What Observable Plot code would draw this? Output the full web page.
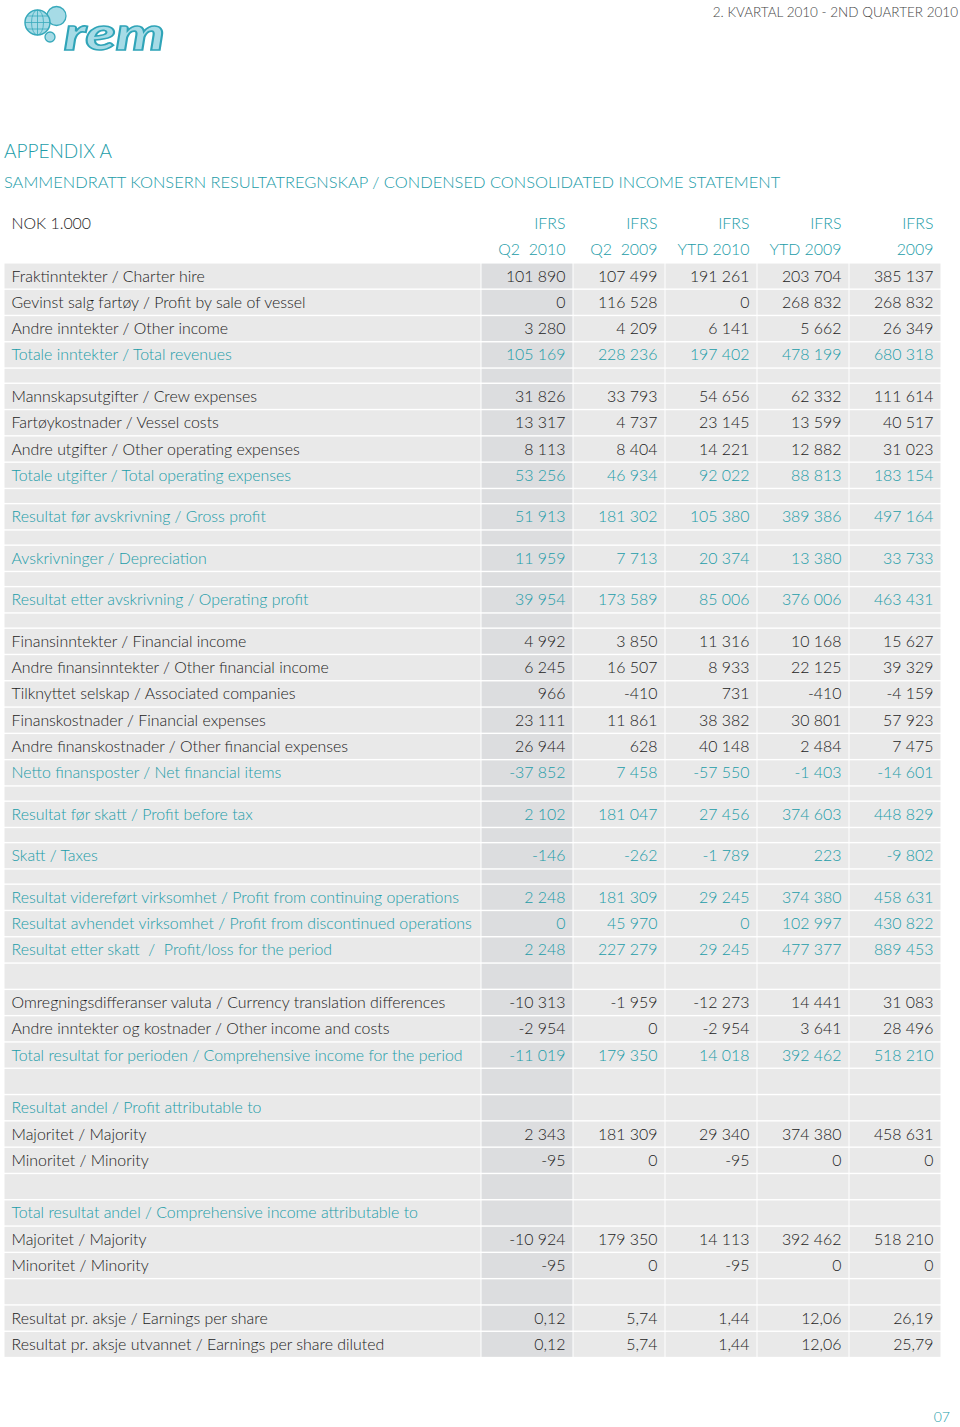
<!DOCTYPE html>
<html><head><meta charset="utf-8">
<script src="https://cdn.jsdelivr.net/npm/d3@7"></script>
<script src="https://cdn.jsdelivr.net/npm/@observablehq/plot@0.6"></script>
<style>
body{margin:0;background:#fff;font-family:Lato,"Open Sans",sans-serif;font-weight:300}
#page{position:relative;width:960px;height:1427px;overflow:hidden;background:#fff}
#logo{position:absolute;left:0;top:0}
#period{position:absolute;right:2px;top:4px;font-size:13.5px;color:#444;white-space:pre}
#title1{position:absolute;left:4px;top:139px;font-size:19px;color:#229ca8}
#title2{position:absolute;left:4px;top:172px;font-size:16.45px;color:#229ca8}
#chart{position:absolute;left:0;top:200px}
#pageno{position:absolute;right:10px;top:1408px;font-size:14px;color:#229ca8}
#chart svg text{white-space:pre;font-weight:300}
</style></head><body>
<div id="page">
<svg id="logo" width="180" height="60">
  <circle cx="56.5" cy="16" r="9.5" fill="#a6dbe6" stroke="#38a9bb" stroke-width="1.3"/>
  <circle cx="50" cy="37" r="5" fill="#a6dbe6" stroke="#38a9bb" stroke-width="1.3"/>
  <circle cx="37.5" cy="22.5" r="12.5" fill="#a6dbe6" stroke="#38a9bb" stroke-width="1.5"/>
  <g stroke="#38a9bb" stroke-width="0.8" fill="none">
    <ellipse cx="37.5" cy="22.5" rx="6" ry="12.5"/>
    <line x1="37.5" y1="10" x2="37.5" y2="35"/>
    <line x1="25" y1="22.5" x2="50" y2="22.5"/>
    <line x1="27" y1="16" x2="48" y2="16"/>
    <line x1="27" y1="29" x2="48" y2="29"/>
  </g>
  <text x="64" y="50" font-family="Lato" font-weight="900" font-style="italic" font-size="46" fill="#a6dbe6" stroke="#2fa4b8" stroke-width="1.6" textLength="101" lengthAdjust="spacingAndGlyphs">rem</text>
</svg>
<div id="period">2. KVARTAL 2010 - 2ND QUARTER 2010</div>
<div id="title1">APPENDIX A</div>
<div id="title2">SAMMENDRATT KONSERN RESULTATREGNSKAP / CONDENSED CONSOLIDATED INCOME STATEMENT</div>
<div id="chart"></div>
<div id="pageno">07</div>
</div>
<script>
// ---------- DATA ----------
const unitLabel = "NOK 1.000";
const columnStandards = ["IFRS", "IFRS", "IFRS", "IFRS", "IFRS"];
const columnPeriods = ["Q2  2010", "Q2  2009", "YTD 2010", "YTD 2009", "2009"];

// kinds: normal, total (teal), heading (teal label only), spacer (short blank), blank (full blank row), eps
const rowLabels = [
  "Fraktinntekter / Charter hire",
  "Gevinst salg fartøy / Profit by sale of vessel",
  "Andre inntekter / Other income",
  "Totale inntekter / Total revenues",
  "",
  "Mannskapsutgifter / Crew expenses",
  "Fartøykostnader / Vessel costs",
  "Andre utgifter / Other operating expenses",
  "Totale utgifter / Total operating expenses",
  "",
  "Resultat før avskrivning / Gross profit",
  "",
  "Avskrivninger / Depreciation",
  "",
  "Resultat etter avskrivning / Operating profit",
  "",
  "Finansinntekter / Financial income",
  "Andre finansinntekter / Other financial income",
  "Tilknyttet selskap / Associated companies",
  "Finanskostnader / Financial expenses",
  "Andre finanskostnader / Other financial expenses",
  "Netto finansposter / Net financial items",
  "",
  "Resultat før skatt / Profit before tax",
  "",
  "Skatt / Taxes",
  "",
  "Resultat videreført virksomhet / Profit from continuing operations",
  "Resultat avhendet virksomhet / Profit from discontinued operations",
  "Resultat etter skatt  /  Profit/loss for the period",
  "",
  "Omregningsdifferanser valuta / Currency translation differences",
  "Andre inntekter og kostnader / Other income and costs",
  "Total resultat for perioden / Comprehensive income for the period",
  "",
  "Resultat andel / Profit attributable to",
  "Majoritet / Majority",
  "Minoritet / Minority",
  "",
  "Total resultat andel / Comprehensive income attributable to",
  "Majoritet / Majority",
  "Minoritet / Minority",
  "",
  "Resultat pr. aksje / Earnings per share",
  "Resultat pr. aksje utvannet / Earnings per share diluted"
];
const rowKinds = [
  "normal","normal","normal","total","spacer",
  "normal","normal","normal","total","spacer",
  "total","spacer",
  "total","spacer",
  "total","spacer",
  "normal","normal","normal","normal","normal","total","spacer",
  "total","spacer",
  "total","spacer",
  "total","total","total","blank",
  "normal","normal","total","blank",
  "heading","normal","normal","blank",
  "heading","normal","normal","blank",
  "eps","eps"
];
const q2_2010 = [101890,0,3280,105169,null, 31826,13317,8113,53256,null, 51913,null, 11959,null, 39954,null,
  4992,6245,966,23111,26944,-37852,null, 2102,null, -146,null, 2248,0,2248,null,
  -10313,-2954,-11019,null, null,2343,-95,null, null,-10924,-95,null, 0.12,0.12];
const q2_2009 = [107499,116528,4209,228236,null, 33793,4737,8404,46934,null, 181302,null, 7713,null, 173589,null,
  3850,16507,-410,11861,628,7458,null, 181047,null, -262,null, 181309,45970,227279,null,
  -1959,0,179350,null, null,181309,0,null, null,179350,0,null, 5.74,5.74];
const ytd_2010 = [191261,0,6141,197402,null, 54656,23145,14221,92022,null, 105380,null, 20374,null, 85006,null,
  11316,8933,731,38382,40148,-57550,null, 27456,null, -1789,null, 29245,0,29245,null,
  -12273,-2954,14018,null, null,29340,-95,null, null,14113,-95,null, 1.44,1.44];
const ytd_2009 = [203704,268832,5662,478199,null, 62332,13599,12882,88813,null, 389386,null, 13380,null, 376006,null,
  10168,22125,-410,30801,2484,-1403,null, 374603,null, 223,null, 374380,102997,477377,null,
  14441,3641,392462,null, null,374380,0,null, null,392462,0,null, 12.06,12.06];
const fy_2009 = [385137,268832,26349,680318,null, 111614,40517,31023,183154,null, 497164,null, 33733,null, 463431,null,
  15627,39329,-4159,57923,7475,-14601,null, 448829,null, -9802,null, 458631,430822,889453,null,
  31083,28496,518210,null, null,458631,0,null, null,518210,0,null, 26.19,25.79];

// ---------- LAYOUT ----------
const TEAL = "#229ca8", INK = "#1c1c1c";
const BG = "#e9e9e9", BG_DARK = "#dcdddf";
const W = 960, H = 1170;
const ROW = 26.3, SPACER = 15.2, TOP = 62.85;   // px
const COLW = 92, X0 = 481, TABLE_L = 4, LABEL_X = 11, PAD_R = 8; // px
const FS = 15.9;

const loc = d3.formatLocale({decimal: ",", thousands: " ", grouping: [3], currency: ["", ""], minus: "-"});
const fInt = loc.format(",d"), fDec = loc.format(",.2f");

const columns = [q2_2010, q2_2009, ytd_2010, ytd_2009, fy_2009];

// rows in row units
let u = 0;
const rows = rowLabels.map((label, i) => {
  const h = rowKinds[i] === "spacer" ? SPACER / ROW : 1;
  const r = {label, kind: rowKinds[i], y1: u, y2: u + h, yc: u + h / 2, i};
  u += h;
  return r;
});

// column geometry in column units
const px2u = (p) => (p - X0) / COLW;
const cells = [];
rows.forEach(r => {
  cells.push({x1: px2u(TABLE_L), x2: 0, y1: r.y1, y2: r.y2, fill: BG});
  columns.forEach((col, c) => cells.push({x1: c, x2: c + 1, y1: r.y1, y2: r.y2, fill: c === 0 ? BG_DARK : BG}));
});

const labelTexts = rows.filter(r => r.label).map(r => ({x: px2u(LABEL_X), y: r.yc, text: r.label,
  fill: (r.kind === "total" || r.kind === "heading") ? TEAL : INK}));
const valueTexts = [];
rows.forEach(r => {
  columns.forEach((col, c) => {
    const v = col[r.i];
    if (v === null || v === undefined) return;
    valueTexts.push({x: c + 1 - PAD_R / COLW, y: r.yc,
      text: r.kind === "eps" ? fDec(v) : fInt(v),
      fill: r.kind === "total" ? TEAL : INK});
  });
});
const headTexts = [];
columns.forEach((col, c) => {
  headTexts.push({x: c + 1 - PAD_R / COLW, y: -1.5, text: columnStandards[c]});
  headTexts.push({x: c + 1 - PAD_R / COLW, y: -0.5, text: columnPeriods[c]});
});

const plot = Plot.plot({
  width: W, height: H,
  margin: 0,
  style: {fontFamily: "Lato, 'Open Sans', sans-serif", background: "transparent"},
  x: {type: "linear", domain: [-X0 / COLW, (W - X0) / COLW], range: [0, W], axis: null},
  y: {type: "linear", domain: [-TOP / ROW, (H - TOP) / ROW], range: [0, H], axis: null},
  marks: [
    Plot.rect(cells, {x1: "x1", x2: "x2", y1: "y1", y2: "y2", fill: d => d.fill,
      insetTop: 0.7, insetBottom: 0.7, insetLeft: 0.5, insetRight: 0.5}),
    Plot.text([{x: px2u(LABEL_X), y: -1.5, text: unitLabel}], {x: "x", y: "y", text: "text",
      textAnchor: "start", fill: INK, fontSize: FS, fontWeight: 300}),
    Plot.text(headTexts, {x: "x", y: "y", text: "text", textAnchor: "end", fill: TEAL, fontSize: FS, fontWeight: 300}),
    Plot.text(labelTexts, {x: "x", y: "y", text: "text", textAnchor: "start", fill: d => d.fill, fontSize: FS, fontWeight: 300}),
    Plot.text(valueTexts, {x: "x", y: "y", text: "text", textAnchor: "end", fill: d => d.fill, fontSize: FS, fontWeight: 300})
  ]
});
document.getElementById("chart").appendChild(plot);
</script>
</body></html>
